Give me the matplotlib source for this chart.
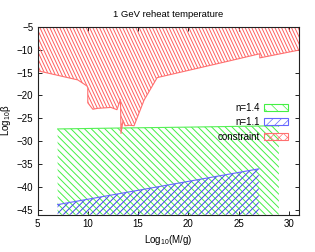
import numpy as np
import matplotlib
matplotlib.use("Agg")

import matplotlib.pyplot as plt
import matplotlib.patches as mpatches
from matplotlib.collections import LineCollection
from matplotlib.transforms import IdentityTransform

plt.rcParams["font.family"] = ["Liberation Sans", "DejaVu Sans"]
plt.rcParams["mathtext.default"] = "regular"
plt.rcParams["hatch.linewidth"] = 0.5

# n=1.4 region (top edge, filled down to the axis)
green_x = [7, 13, 20, 29]
green_top = [-27.3, -27.1, -26.9, -26.6]

# n=1.1 region
blue_x = [7, 27]
blue_top = [-43.8, -36.0]

# constraint region (lower edge, filled up to -5)
red_x = [5, 9.0, 9.9, 10.0, 10.0, 10.5, 11.0, 11.7, 12.3, 12.9, 13.25, 13.3,
         13.5, 13.7, 14.2, 14.6, 15.6, 16.9, 24.0, 27.1, 27.1, 31]
red_y = [-14.6, -16.6, -17.9, -18.3, -21.6, -23.0, -22.8, -22.7, -22.6, -23.1, -20.9, -28.3,
         -25.5, -26.6, -26.5, -26.6, -21.0, -16.1, -12.5, -10.9, -11.8, -10.1]

W, H = 315, 252

fig = plt.figure(figsize=(W / 100, H / 100), dpi=100)
ax = fig.add_axes([37.5 / W, 1 - 214.7 / H, (299 - 37.5) / W, (214.7 - 26.7) / H])
ax.set_xlim(5, 31)
ax.set_ylim(-46, -5)


def hatch_fill(verts, angle, spacing, color, lw=0.7):
    # draw hatch lines in pixel space, clipped to the polygon
    patch = mpatches.Polygon(verts, closed=True, fill=False, lw=0)
    ax.add_patch(patch)
    a = np.deg2rad(angle)
    d = np.array([np.cos(a), np.sin(a)])
    n = np.array([-np.sin(a), np.cos(a)])
    L = 600
    segs = []
    for c in np.arange(-500, 500, spacing):
        p = c * n + np.array([W / 2, H / 2])
        segs.append([p - L * d, p + L * d])
    lc = LineCollection(segs, colors=color, linewidths=lw, transform=IdentityTransform())
    ax.add_collection(lc, autolim=False)
    lc.set_clip_path(patch)


gverts = list(zip(green_x, green_top)) + [(green_x[-1], -46), (green_x[0], -46)]
hatch_fill(gverts, -45, 4.8, "#44f044")
ax.plot(green_x, green_top, color="#55f055", lw=0.8)

bverts = list(zip(blue_x, blue_top)) + [(blue_x[-1], -46), (blue_x[0], -46)]
hatch_fill(bverts, 45, 4.8, "#4444f0")
ax.plot(blue_x, blue_top, color="#6666ff", lw=0.8)

rverts = list(zip(red_x, red_y)) + [(red_x[-1], -5), (red_x[0], -5)]
hatch_fill(rverts, -65, 3.0, "#ff6060", lw=0.7)
ax.plot(red_x, red_y, color="#ff7070", lw=0.8)

ax.set_xticks([5, 10, 15, 20, 25, 30])
ax.set_yticks([-5, -10, -15, -20, -25, -30, -35, -40, -45])
ax.tick_params(direction="in", top=True, right=True, length=3, width=0.6,
               labelsize=7, pad=3)
for s in ax.spines.values():
    s.set_linewidth(0.8)
    s.set_color("#222222")

ax.set_title("1 GeV reheat temperature", fontsize=6.8, pad=7)
ax.set_xlabel("Log$_{10}$(M/g)", fontsize=7, labelpad=3)
ax.set_ylabel("Log$_{10}$β", fontsize=7, labelpad=3)

handles = [
    mpatches.Patch(fill=False, edgecolor="#44f044", hatch="\\\\\\", lw=0.8, label="n=1.4"),
    mpatches.Patch(fill=False, edgecolor="#6666ff", hatch="////", lw=0.8, label="n=1.1"),
    mpatches.Patch(fill=False, edgecolor="#ff7070", hatch="xxxx", lw=0.8, label="constraint"),
]
ax.legend(handles=handles, loc="upper right", bbox_to_anchor=(0.958, 0.595),
          frameon=False, markerfirst=False, fontsize=7, handlelength=2.5,
          handleheight=0.7, labelspacing=0.45, borderpad=0, borderaxespad=0,
          handletextpad=0.4)

fig.savefig("out.png", dpi=100)
